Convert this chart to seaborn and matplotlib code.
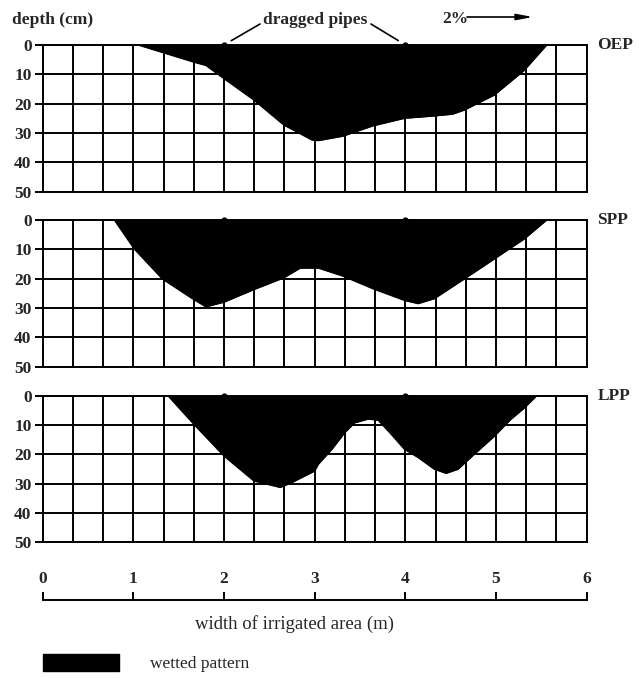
import numpy as np
import pandas as pd
import matplotlib
matplotlib.use("Agg")
import matplotlib.pyplot as plt
import seaborn as sns
from matplotlib.patches import Patch

# ---------------- data ----------------
panel_names = ["OEP", "SPP", "LPP"]

oep_width = [1.05, 1.67, 1.80, 2.00, 2.33, 2.66, 2.97, 3.04, 3.31, 3.64, 3.99,
             4.32, 4.52, 4.65, 4.98, 5.31, 5.56]
oep_depth = [0, 5.9, 7.0, 11.5, 18.8, 27.3, 32.4, 32.6, 31.1, 27.6, 25.0,
             24.2, 23.6, 22.2, 17.1, 8.7, 0]

spp_width = [0.79, 1.01, 1.32, 1.65, 1.80, 2.00, 2.33, 2.66, 2.84, 3.04, 3.31,
             3.64, 3.99, 4.14, 4.32, 4.65, 4.98, 5.31, 5.56]
spp_depth = [0, 9.9, 20.1, 26.8, 29.6, 28.0, 23.7, 19.7, 16.4, 16.4, 19.1,
             23.4, 27.4, 28.5, 26.8, 20.1, 13.3, 6.5, 0]

lpp_width = [1.38, 1.67, 2.00, 2.33, 2.62, 2.75, 3.00, 3.04, 3.19, 3.33, 3.44,
             3.59, 3.70, 3.83, 3.99, 4.14, 4.32, 4.45, 4.58, 4.76, 4.98, 5.16,
             5.31, 5.45]
lpp_depth = [0, 9.9, 20.6, 29.1, 31.3, 29.6, 25.7, 23.4, 18.3, 12.7, 9.3,
             8.0, 8.4, 12.7, 18.3, 21.1, 25.1, 26.5, 25.1, 20.0, 13.9, 8.2,
             4.3, 0]

pipe_positions = [2, 4]
depth_ticks = [0, 10, 20, 30, 40, 50]
width_ticks = [0, 1, 2, 3, 4, 5, 6]

profiles = {
    "OEP": (oep_width, oep_depth),
    "SPP": (spp_width, spp_depth),
    "LPP": (lpp_width, lpp_depth),
}

# ---------------- style ----------------
sns.set_theme(style="white")
plt.rcParams["font.family"] = ["Liberation Serif", "DejaVu Serif"]
FS = 12.5
GLW = 1.4

fig = plt.figure(figsize=(6.39, 6.78), dpi=100)
L, W, H = 0.0668, 0.8513, 0.2165
bottoms = [0.7173, 0.4591, 0.2001]
grid_x = np.linspace(0, 6, 19)

axes = []
for name, b in zip(panel_names, bottoms):
    ax = fig.add_axes([L, b, W, H])
    xs, ds = profiles[name]
    df = pd.DataFrame({"width": xs, "depth": ds})
    ax.fill_between(df["width"], df["depth"], 0, color="black", lw=0, zorder=3)
    sns.lineplot(data=df, x="width", y="depth", color="black", lw=1, sort=False,
                 ax=ax, zorder=3, legend=False)
    if ax.get_legend() is not None:
        ax.get_legend().remove()
    ax.set_xlim(0, 6)
    ax.set_ylim(50, 0)
    ax.set_xticks(grid_x)
    ax.set_yticks(depth_ticks)
    ax.set_yticklabels([str(v) for v in depth_ticks], fontweight="bold", fontsize=FS)
    ax.set_xlabel("")
    ax.set_ylabel("")
    ax.grid(True, color="black", lw=GLW)
    ax.set_axisbelow(True)
    ax.tick_params(axis="x", length=0, labelbottom=False)
    ax.tick_params(axis="y", left=True, length=6, width=GLW, color="black",
                   direction="out", pad=2)
    for s in ax.spines.values():
        s.set_color("black")
        s.set_linewidth(GLW)
    ax.plot(pipe_positions, [0] * len(pipe_positions), "o", color="black", ms=3.5,
            clip_on=False, zorder=6)
    ax.text(1.020, 1.0, name, transform=ax.transAxes, ha="left", va="center",
            fontsize=FS, fontweight="bold")
    axes.append(ax)

ax1 = axes[0]
# header texts
fig.text(12 / 639, 1 - 20 / 678, "depth (cm)", ha="left", va="center",
         fontsize=FS, fontweight="bold")
fig.text(315 / 639, 1 - 20 / 678, "dragged pipes", ha="center", va="center",
         fontsize=FS, fontweight="bold")
ax1.annotate("", xy=(pipe_positions[0], 0), xycoords="data",
             xytext=(260, 678 - 24), textcoords="figure pixels",
             arrowprops=dict(arrowstyle="-", lw=1.2, color="black",
                             shrinkA=0, shrinkB=6))
ax1.annotate("", xy=(pipe_positions[1], 0), xycoords="data",
             xytext=(371, 678 - 24), textcoords="figure pixels",
             arrowprops=dict(arrowstyle="-", lw=1.2, color="black",
                             shrinkA=0, shrinkB=6))
fig.text(442 / 639, 1 - 19 / 678, "2%", ha="left", va="center",
         fontsize=FS, fontweight="bold")
ax1.annotate("", xy=(533, 678 - 17), xycoords="figure pixels",
             xytext=(467, 678 - 17), textcoords="figure pixels",
             arrowprops=dict(arrowstyle="-|>,head_length=0.8,head_width=0.15",
                             lw=1.2, color="black", shrinkA=0, shrinkB=0))

# scale bar
axs = fig.add_axes([L, 0.1150, W, 0.0147])
axs.set_xlim(0, 6)
axs.set_ylim(0, 1)
axs.set_yticks([])
axs.set_xticks(width_ticks)
axs.set_xticklabels([str(v) for v in width_ticks], fontweight="bold", fontsize=FS)
for side in ["left", "right", "top"]:
    axs.spines[side].set_visible(False)
axs.spines["bottom"].set_color("black")
axs.spines["bottom"].set_linewidth(GLW)
axs.tick_params(axis="x", bottom=True, top=False, direction="in", length=6,
                width=GLW, color="black", labelbottom=False, labeltop=True, pad=2)
axs.set_facecolor("none")
axs.set_xlabel("width of irrigated area (m)", fontsize=13.5, x=0.462, labelpad=11)

# legend
fig.legend(handles=[Patch(facecolor="black", edgecolor="black", label="wetted pattern")],
           loc="lower left", bbox_to_anchor=(42.7 / 639, 6 / 678),
           frameon=False, fontsize=FS, handlelength=4.4, handleheight=1.15,
           handletextpad=1.8, borderpad=0, borderaxespad=0)

fig.savefig("out.png", dpi=100)
